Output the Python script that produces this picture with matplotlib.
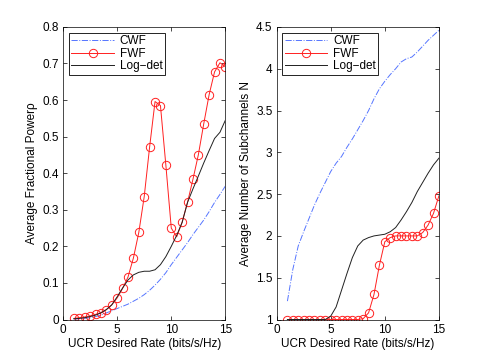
import numpy as np
import matplotlib.pyplot as plt

plt.rcParams['font.family'] = ['Liberation Sans', 'DejaVu Sans']
plt.rcParams['font.size'] = 8.5

# rate axis (bits/s/Hz)
rate = np.arange(1, 15.01, 0.5)

# left panel: average fractional power
cwf_power = [0.001, 0.002, 0.003, 0.005, 0.008, 0.012, 0.018, 0.024, 0.030, 0.036,
             0.042, 0.050, 0.058, 0.068, 0.080, 0.094, 0.110, 0.128, 0.150, 0.170,
             0.190, 0.210, 0.232, 0.252, 0.272, 0.295, 0.320, 0.342, 0.365]
fwf_power = [0.003, 0.005, 0.007, 0.010, 0.014, 0.019, 0.027, 0.040, 0.059, 0.085,
             0.116, 0.168, 0.238, 0.336, 0.472, 0.596, 0.585, 0.422, 0.250, 0.226,
             0.266, 0.320, 0.383, 0.450, 0.535, 0.615, 0.677, 0.702, 0.691]
logdet_power = [0.002, 0.003, 0.005, 0.008, 0.012, 0.018, 0.027, 0.040, 0.062, 0.086,
                0.108, 0.122, 0.129, 0.132, 0.132, 0.136, 0.150, 0.172, 0.200, 0.230,
                0.265, 0.320, 0.357, 0.392, 0.428, 0.462, 0.495, 0.512, 0.545]

# right panel: average number of subchannels
cwf_sub = [1.22, 1.60, 1.88, 2.05, 2.21, 2.37, 2.51, 2.64, 2.77, 2.87,
           2.95, 3.06, 3.16, 3.27, 3.38, 3.50, 3.64, 3.76, 3.85, 3.93,
           4.00, 4.08, 4.12, 4.14, 4.20, 4.27, 4.34, 4.40, 4.46]
fwf_sub = [1.0, 1.0, 1.0, 1.0, 1.0, 1.0, 1.0, 1.0, 1.0, 1.0,
           1.0, 1.0, 1.0, 1.0, 1.01, 1.08, 1.30, 1.65, 1.93, 1.98,
           2.0, 2.0, 2.0, 2.0, 2.0, 2.04, 2.13, 2.27, 2.48]
logdet_sub = [1.0, 1.0, 1.0, 1.0, 1.0, 1.0, 1.0, 1.0, 1.04, 1.15,
              1.35, 1.55, 1.74, 1.88, 1.95, 1.98, 2.00, 2.01, 2.02, 2.05,
              2.10, 2.19, 2.29, 2.40, 2.53, 2.64, 2.75, 2.85, 2.93]

labels = ['CWF', 'FWF', 'Log\u2212det']

fig = plt.figure(figsize=(4.85, 3.59), dpi=100)
ax1 = fig.add_axes([0.13, 0.11, 0.3347, 0.815])
ax2 = fig.add_axes([0.5703, 0.11, 0.3347, 0.815])

def dibujar(ax, cwf, fwf, logdet):
    ax.plot(rate, cwf, '-.', color='#5575ff', lw=0.7, label=labels[0])
    ax.plot(rate, fwf, '-', color='#ff2020', lw=0.7, marker='o', ms=6,
            mfc='none', mec='#ff2020', mew=0.7, label=labels[1])
    ax.plot(rate, logdet, '-', color='#202020', lw=0.7, label=labels[2])
    ax.set_xlim(0, 15)
    ax.set_xticks([0, 5, 10, 15])
    ax.tick_params(direction='in', top=True, right=True, length=3, width=0.5, pad=3)
    for s in ax.spines.values():
        s.set_linewidth(0.5)
    ax.set_xlabel('UCR Desired Rate (bits/s/Hz)', labelpad=2)
    leg = ax.legend(loc='upper left', fancybox=False, edgecolor='black',
                    handlelength=3.6, borderaxespad=0.5, borderpad=0.2,
                    labelspacing=0.05, handletextpad=0.5, framealpha=1)
    leg.get_frame().set_linewidth(0.6)

dibujar(ax1, cwf_power, fwf_power, logdet_power)
ax1.set_ylim(0, 0.8)
ax1.set_yticks(np.arange(0, 0.81, 0.1))
ax1.set_yticklabels(['0', '0.1', '0.2', '0.3', '0.4', '0.5', '0.6', '0.7', '0.8'])
ax1.set_ylabel('Average Fractional Power\u03c1', labelpad=3)

dibujar(ax2, cwf_sub, fwf_sub, logdet_sub)
ax2.set_ylim(1, 4.5)
ax2.set_yticks(np.arange(1, 4.51, 0.5))
ax2.set_yticklabels(['1', '1.5', '2', '2.5', '3', '3.5', '4', '4.5'])
ax2.set_ylabel('Average Number of Subchannels N', labelpad=3)

plt.savefig('out.png', dpi=100)
